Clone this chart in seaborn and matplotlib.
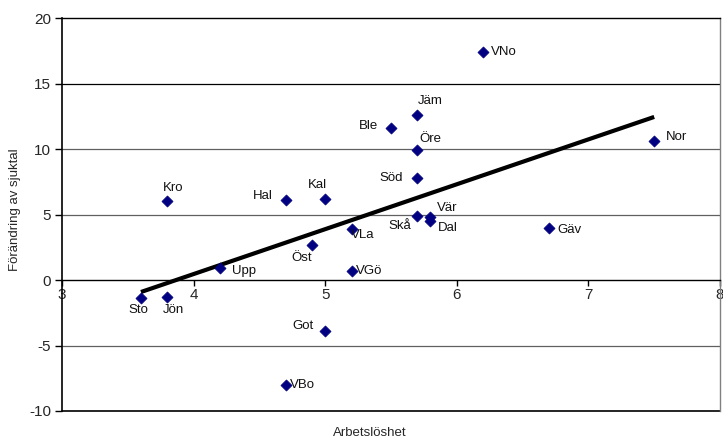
import numpy as np
import pandas as pd
import matplotlib
matplotlib.use("Agg")
import matplotlib.pyplot as plt
import seaborn as sns

# Regional unemployment vs. change in sickness rate
regions = ["Sto", "Jön", "Kro", "Upp", "Hal", "Kal", "Öst", "VLa", "VGö", "Got",
           "VBo", "Ble", "Jäm", "Öre", "Söd", "Skå", "Vär", "Dal", "VNo", "Nor", "Gäv"]
arbetsloshet = [3.6, 3.8, 3.8, 4.2, 4.7, 5.0, 4.9, 5.2, 5.2, 5.0,
                4.7, 5.5, 5.7, 5.7, 5.7, 5.7, 5.8, 5.8, 6.2, 7.5, 6.7]
sjuktal = [-1.4, -1.3, 6.0, 0.9, 6.1, 6.2, 2.7, 3.9, 0.7, -3.9,
           -8.0, 11.6, 12.6, 9.9, 7.8, 4.9, 4.8, 4.5, 17.4, 10.6, 4.0]

# label placement: (dx, dy) in pixels and horizontal alignment
label_pos = {
    "Sto": (-3, -12, "center"), "Jön": (6, -13, "center"), "Kro": (6, 13, "center"),
    "Upp": (12, -3, "left"), "Hal": (-13, 4, "right"), "Kal": (-8, 14, "center"),
    "Öst": (-10, -13, "center"), "VLa": (-1, -6, "left"), "VGö": (4, 0, "left"),
    "Got": (-12, 5, "right"), "VBo": (4, 0, "left"), "Ble": (-13, 2, "right"),
    "Jäm": (13, 14, "center"), "Öre": (13, 11, "center"), "Söd": (-14, 0, "right"),
    "Skå": (-6, -10, "right"), "Vär": (17, 9, "center"), "Dal": (7, -7, "left"),
    "VNo": (8, 0, "left"), "Nor": (12, 4, "left"), "Gäv": (8, -2, "left"),
}

df = pd.DataFrame({"region": regions, "x": arbetsloshet, "y": sjuktal})

sns.set_theme(style="white")
plt.rcParams["font.family"] = ["Liberation Sans", "DejaVu Sans"]

fig = plt.figure(figsize=(7.23, 4.42), dpi=100)
ax = fig.add_axes([62 / 723, 31 / 442, 658 / 723, 393 / 442])

ax.set_xlim(3, 8)
ax.set_ylim(-10, 20)

# horizontal gridlines
grid_colors = {15: "#000000", 10: "#606060", 5: "#606060", -5: "#606060"}
for yv, c in grid_colors.items():
    ax.axhline(yv, color=c, lw=0.9, zorder=1)
ax.axhline(-10, color="black", lw=1.2, zorder=1, clip_on=False)

# linear trend line
k, m = np.polyfit(df["x"], df["y"], 1)
xs = np.array([df["x"].min(), df["x"].max()])
ax.plot(xs, k * xs + m, color="black", lw=3, zorder=2, solid_capstyle="butt")

sns.scatterplot(data=df, x="x", y="y", ax=ax, marker="D", s=32,
                color="#000080", edgecolor="#000080", linewidth=0.5, zorder=3)

for r, xv, yv in zip(regions, arbetsloshet, sjuktal):
    dx, dy, ha = label_pos[r]
    ax.annotate(r, (xv, yv), xytext=(dx, dy), textcoords="offset pixels",
                ha=ha, va="center", fontsize=9.5, color="#111111", zorder=4)

# spines: x axis at zero
ax.spines["bottom"].set_position(("data", 0))
ax.spines["bottom"].set_color("black")
ax.spines["bottom"].set_linewidth(1.0)
ax.spines["left"].set_color("black")
ax.spines["left"].set_linewidth(1.2)
ax.spines["top"].set_color("black")
ax.spines["top"].set_linewidth(1.0)
ax.spines["right"].set_color("#808080")
ax.spines["right"].set_linewidth(1.0)

ax.set_xticks([3, 4, 5, 6, 7, 8])
ax.set_yticks([-10, -5, 0, 5, 10, 15, 20])
ax.set_yticklabels(["-10", "-5", "0", "5", "10", "15", "20"])
ax.tick_params(axis="x", direction="out", length=4, width=1, color="black",
               labelsize=11, pad=2, bottom=True)
ax.tick_params(axis="y", direction="out", length=5, width=1, color="black",
               labelsize=11, pad=3, left=True)

ax.set_xlabel("")
ax.set_ylabel("")
fig.text(15 / 723, 1 - 210 / 442, "Förändring av sjuktal", rotation=90,
         ha="center", va="center", fontsize=9.5)
fig.text(370 / 723, 1 - 433 / 442, "Arbetslöshet", ha="center", va="center",
         fontsize=9.5)

fig.savefig("out.png", dpi=100)
